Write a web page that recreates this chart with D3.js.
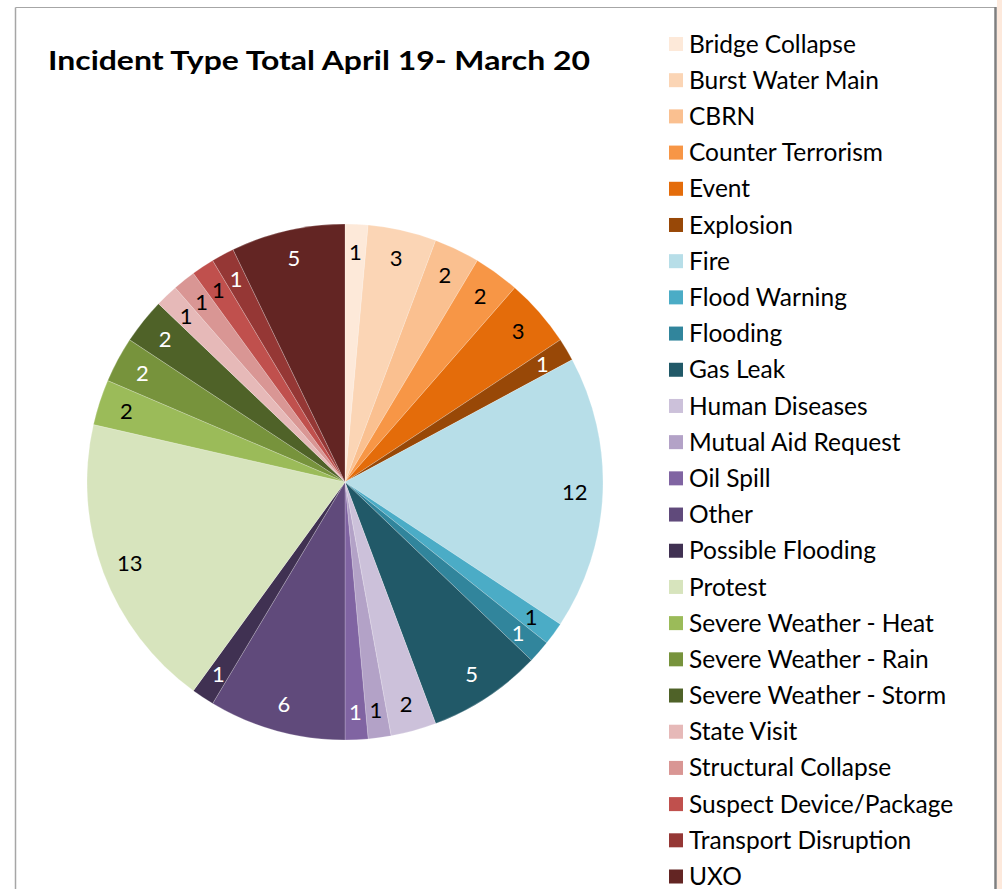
<!DOCTYPE html>
<html>
<head>
<meta charset="utf-8">
<script src="https://cdn.jsdelivr.net/npm/d3@7"></script>
<style>
html,body{margin:0;padding:0;background:#fff;}
svg{display:block;}
</style>
</head>
<body>
<script>
const categories = ["Bridge Collapse","Burst Water Main","CBRN","Counter Terrorism","Event","Explosion","Fire","Flood Warning","Flooding","Gas Leak","Human Diseases","Mutual Aid Request","Oil Spill","Other","Possible Flooding","Protest","Severe Weather - Heat","Severe Weather - Rain","Severe Weather - Storm","State Visit","Structural Collapse","Suspect Device/Package","Transport Disruption","UXO"];
const values = [1,3,2,2,3,1,12,1,1,5,2,1,1,6,1,13,2,2,2,1,1,1,1,5];
const colors = ["#fde9d9","#fbd5b5","#fac090","#f79646","#e46c0a","#984807","#b7dee8","#4bacc6","#31859c","#215968","#ccc1da","#b3a2c7","#8064a2","#604a7b","#403152","#d7e4bd","#9bbb59","#77933c","#4f6228","#e6b9b8","#d99694","#c0504d","#953735","#632523"];
const labelColors = ["#000","#000","#000","#000","#000","#fff","#000","#000","#fff","#fff","#000","#000","#fff","#fff","#fff","#000","#000","#fff","#fff","#000","#000","#000","#fff","#fff"];
const title = "Incident Type Total April 19- March 20";

const W = 1002, H = 889;
const svg = d3.select("body").append("svg").attr("width", W).attr("height", H);

// background outside frame
svg.append("rect").attr("x",0).attr("y",0).attr("width",W).attr("height",H).attr("fill","#fff");
svg.append("rect").attr("x",997).attr("y",0).attr("width",5).attr("height",H).attr("fill","#fde9dc");
// frame
svg.append("line").attr("x1",15.5).attr("y1",7.5).attr("x2",995).attr("y2",7.5).attr("stroke","#a6a6a6").attr("stroke-width",1);
svg.append("line").attr("x1",15.5).attr("y1",7.5).attr("x2",15.5).attr("y2",H).attr("stroke","#a6a6a6").attr("stroke-width",1.5);
svg.append("line").attr("x1",995.5).attr("y1",7).attr("x2",995.5).attr("y2",H).attr("stroke","#7f7f7f").attr("stroke-width",2.5);

// title
svg.append("text").attr("x",48).attr("y",70)
  .attr("font-family","Lato, 'Open Sans', sans-serif").attr("font-weight","bold")
  .attr("font-size",27).attr("fill","#000")
  .attr("textLength",542).attr("lengthAdjust","spacingAndGlyphs")
  .text(title);

// pie
const cx = 345, cy = 482, R = 258, LR = 230;
const data = categories.map((c,i)=>({name:c, value:values[i], color:colors[i], lc:labelColors[i]}));
const pie = d3.pie().value(d=>d.value).sort(null);
const arcs = pie(data);
const arc = d3.arc().innerRadius(0).outerRadius(R);
const labelArc = d3.arc().innerRadius(LR).outerRadius(LR);
const g = svg.append("g").attr("transform",`translate(${cx},${cy})`);
g.selectAll("path.slice").data(arcs).enter().append("path")
  .attr("class","slice")
  .attr("d",arc)
  .attr("fill",d=>d.data.color)
  .attr("stroke","rgba(255,255,255,0.35)")
  .attr("stroke-width",0.6);
g.selectAll("text.lbl").data(arcs).enter().append("text")
  .attr("class","lbl")
  .attr("transform",d=>`translate(${labelArc.centroid(d)})`)
  .attr("text-anchor","middle").attr("dy","0.36em")
  .attr("font-family","Lato, 'Open Sans', sans-serif")
  .attr("font-size",22)
  .attr("fill",d=>d.data.lc)
  .text(d=>d.data.value);

// legend
const ly = d3.scaleLinear().domain([0, categories.length-1]).range([44, 876.5]);
const lg = svg.append("g");
const items = lg.selectAll("g.item").data(data).enter().append("g").attr("class","item")
  .attr("transform",(d,i)=>`translate(669,${ly(i)})`);
items.append("rect").attr("x",0).attr("y",-7).attr("width",14).attr("height",14).attr("fill",d=>d.color);
items.append("text").attr("x",20).attr("y",0).attr("dy","0.35em")
  .attr("font-family","Lato, 'Open Sans', sans-serif")
  .attr("font-size",24.5).attr("fill","#000")
  .text(d=>d.name);
</script>
</body>
</html>
